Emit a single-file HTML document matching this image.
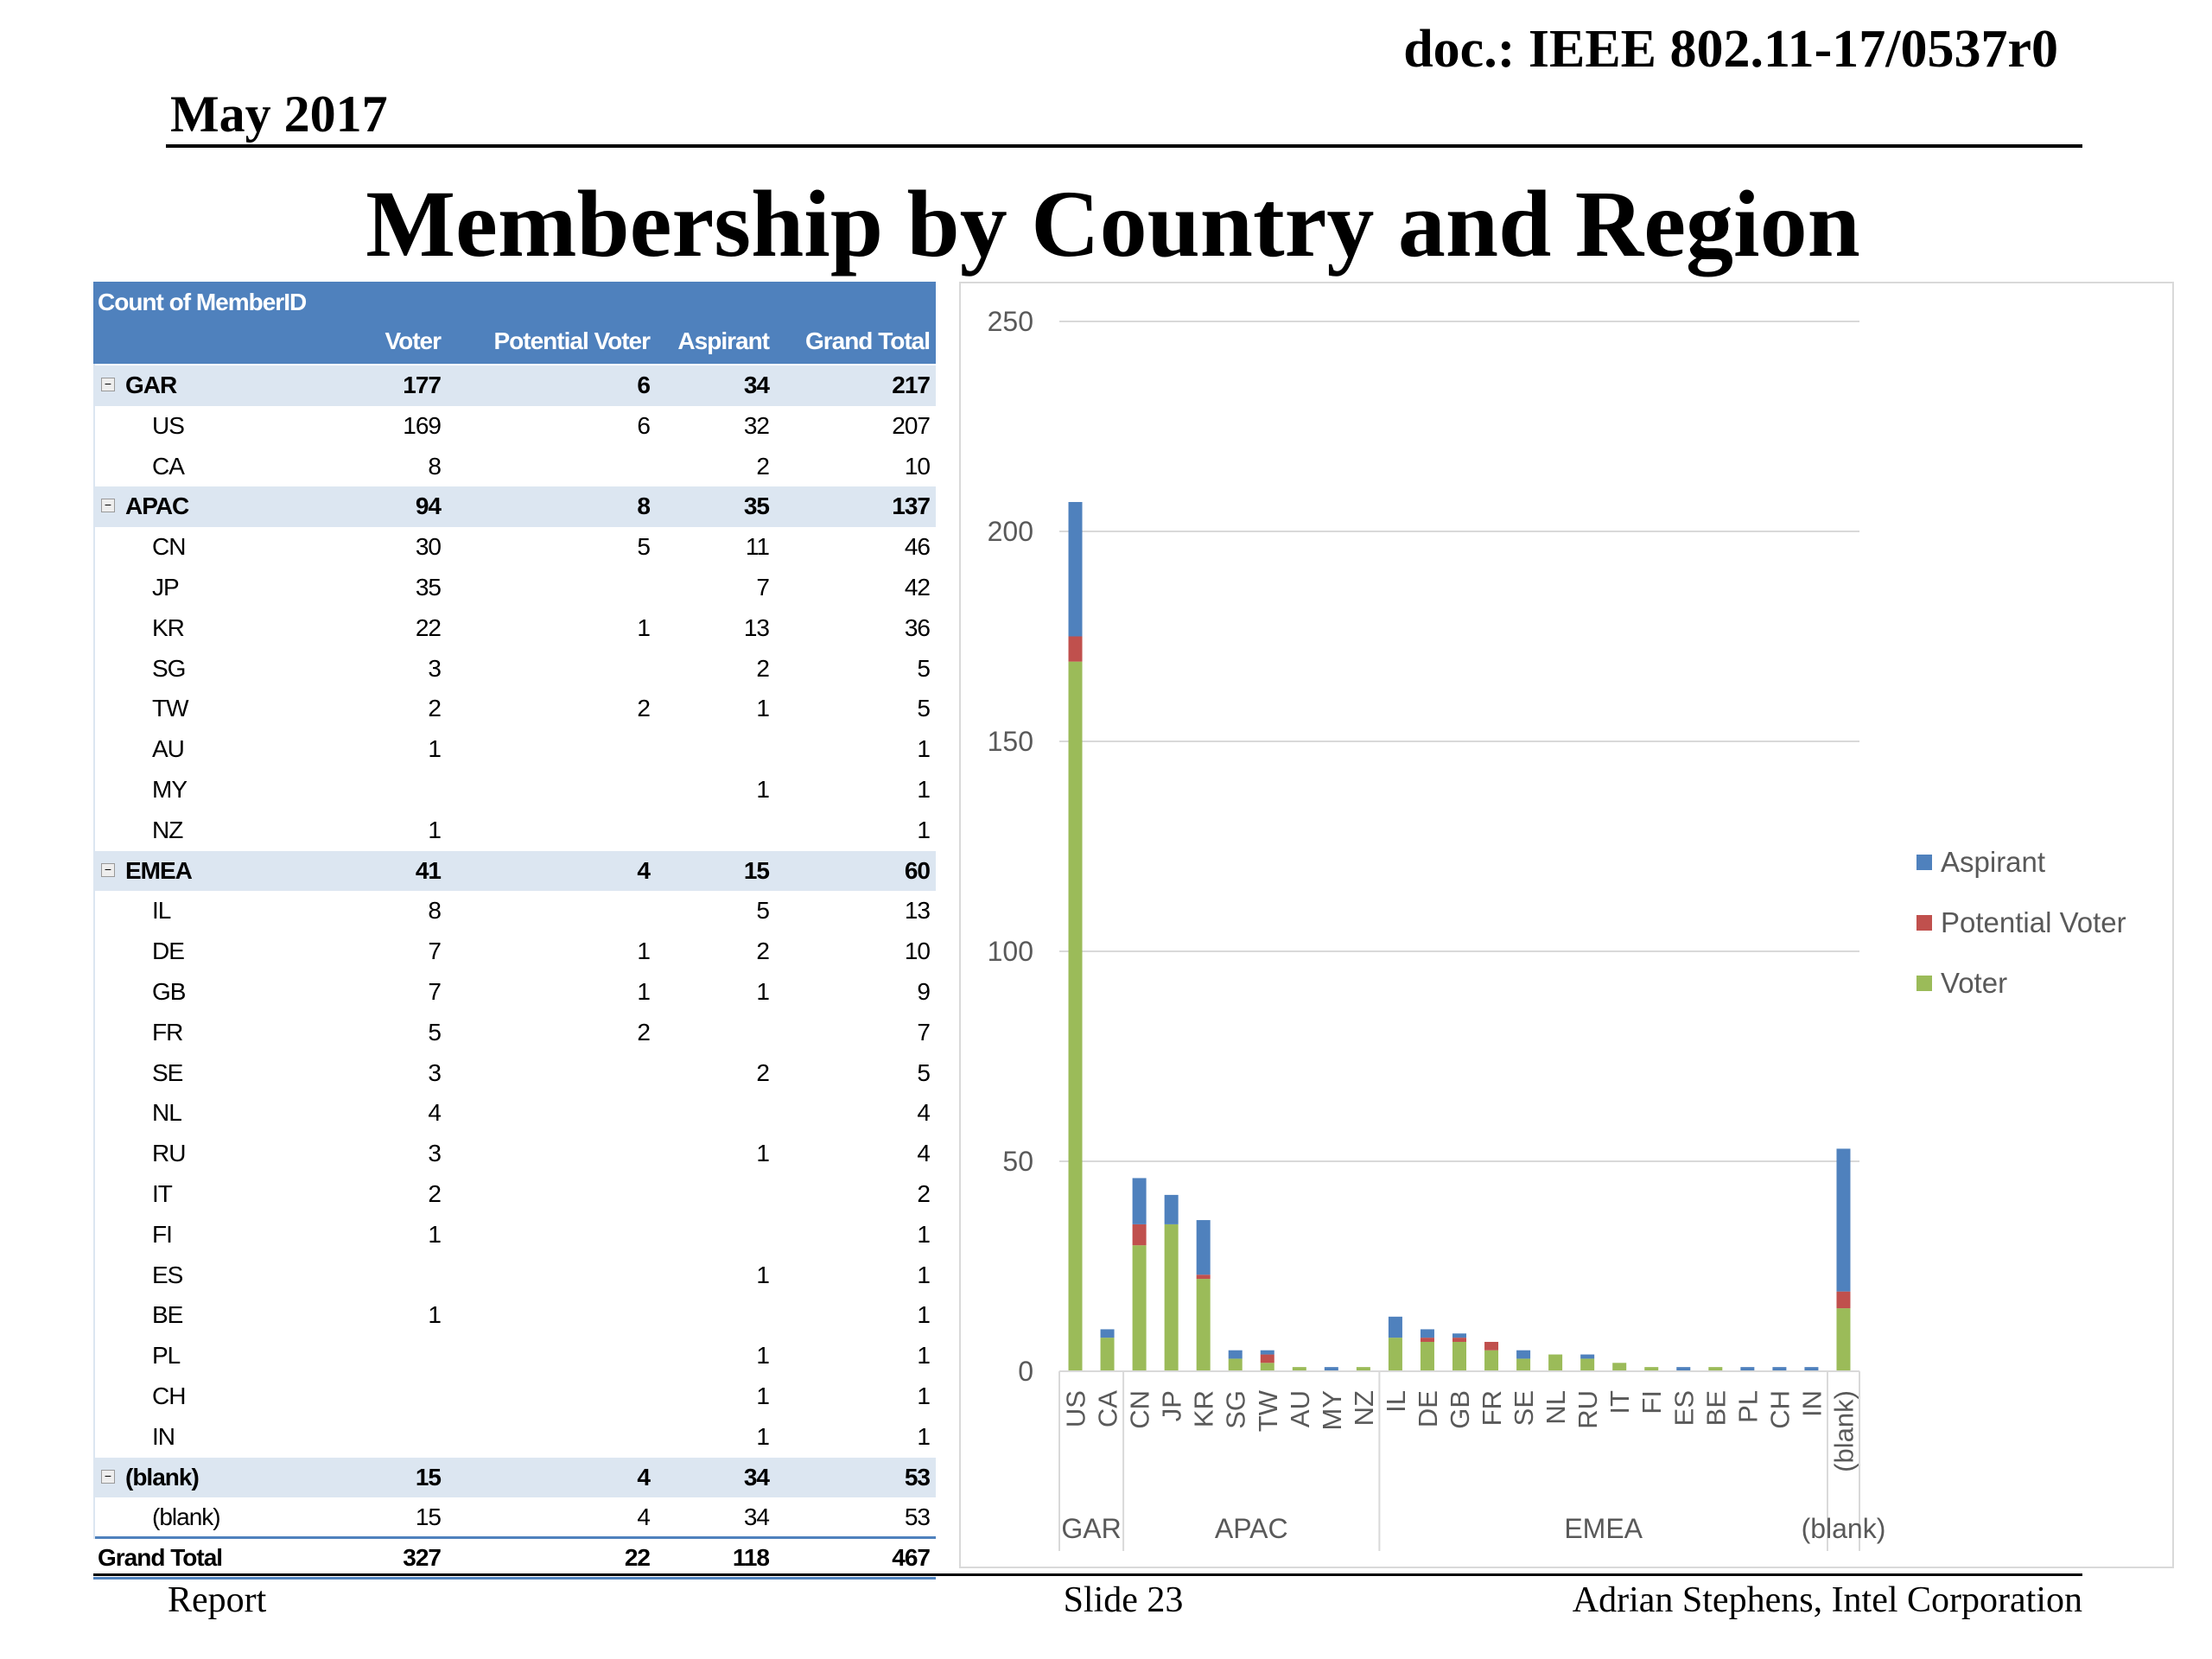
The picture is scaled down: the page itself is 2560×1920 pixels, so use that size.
<!DOCTYPE html>
<html><head><meta charset="utf-8">
<style>
body{margin:0;width:2560px;height:1920px;background:#fff;position:relative;overflow:hidden;font-family:"Liberation Serif",serif}
.abs{position:absolute}
.t{font-family:"Liberation Sans",sans-serif;font-size:28px;position:absolute;white-space:nowrap;letter-spacing:-1px}
</style></head><body>
<div class="abs" style="right:178px;top:22px;font-size:62px;font-weight:bold">doc.: IEEE 802.11-17/0537r0</div>
<div class="abs" style="left:197px;top:98px;font-size:60px;font-weight:bold">May 2017</div>
<div class="abs" style="left:192px;top:167px;width:2218px;height:4px;background:#000"></div>
<div class="abs" style="left:0;width:2576px;text-align:center;top:196px;font-size:110px;font-weight:bold">Membership by Country and Region</div>

<div id="tbl" class="abs" style="left:108px;top:326px;width:975px;height:1500px">
 <div class="abs" style="left:0;top:0;width:975px;height:95px;background:#4F81BD"></div>
 <div class="t" style="left:5px;top:8px;color:#fff;font-weight:bold">Count of MemberID</div>
</div>

<div class="abs" style="left:1110px;top:326px;width:1402px;height:1485px;border:2px solid #d9d9d9"></div>
<svg id="chart" class="abs" style="left:0;top:0" width="2560" height="1920"></svg>

<div class="abs" style="left:108px;top:1821px;width:2302px;height:3px;background:#000"></div>
<div class="abs" style="left:194px;top:1828px;font-size:42px">Report</div>
<div class="abs" style="left:1200px;width:200px;text-align:center;top:1828px;font-size:42px">Slide 23</div>
<div class="abs" style="right:150px;top:1828px;font-size:42px">Adrian Stephens, Intel Corporation</div>

<script>
const categories=["US","CA","CN","JP","KR","SG","TW","AU","MY","NZ","IL","DE","GB","FR","SE","NL","RU","IT","FI","ES","BE","PL","CH","IN","(blank)"];
const voter=[169,8,30,35,22,3,2,1,0,1,8,7,7,5,3,4,3,2,1,0,1,0,0,0,15];
const potential=[6,0,5,0,1,0,2,0,0,0,0,1,1,2,0,0,0,0,0,0,0,0,0,0,4];
const aspirant=[32,2,11,7,13,2,1,0,1,0,5,2,1,0,2,0,1,0,0,1,0,1,1,1,34];
const groups=["GAR","APAC","EMEA","(blank)"];
const groupStart=[0,2,10,24];
const groupEnd=[1,9,23,24];
const yTicks=[0,50,100,150,200,250];
const seriesNames=["Aspirant","Potential Voter","Voter"];
const seriesColors=["#4F81BD","#C0504D","#9BBB59"];

const NS="http://www.w3.org/2000/svg";
const svg=document.getElementById('chart');
function mk(tag,attrs,parent){const e=document.createElementNS(NS,tag);for(const k in attrs)e.setAttribute(k,attrs[k]);(parent||svg).appendChild(e);return e;}
const x0=1226,x1=2152,y0=1587,yTop=372,yMax=250;
const band=(x1-x0)/categories.length;
const xC=i=>x0+band*(i+0.5);
const yS=v=>y0-(v/yMax)*(y0-yTop);
const bw=16;

yTicks.forEach(t=>{
  const l=mk('line',{x1:x0,x2:x1,y1:yS(t),y2:yS(t),stroke:'#d9d9d9','stroke-width':2});
  
  
  const tx=mk('text',{x:1196,y:yS(t)+11,'text-anchor':'end','font-family':'Liberation Sans, sans-serif','font-size':32,fill:'#595959'});
  tx.textContent=t;
  
  
});

categories.forEach((c,i)=>{
  const vals=[voter[i],potential[i],aspirant[i]];
  const cols=["#9BBB59","#C0504D","#4F81BD"];
  const nm=["voter","potential","aspirant"];
  let acc=0;
  vals.forEach((v,k)=>{
    if(v<=0)return;
    const r=mk('rect',{x:xC(i)-bw/2,y:yS(acc+v),width:bw,height:yS(acc)-yS(acc+v),fill:cols[k]});
    
    
    acc+=v;
  });
  const tx=mk('text',{transform:`translate(${xC(i)+11},1609) rotate(-90)`,'text-anchor':'end','font-family':'Liberation Sans, sans-serif','font-size':31,fill:'#595959'});
  tx.textContent=c;
  
  
});
// group separators and labels
const sepX=[x0];
groups.forEach((g,gi)=>{sepX.push(x0+band*(groupEnd[gi]+1));});
sepX.forEach((sx,k)=>{
  const l=mk('line',{x1:sx,x2:sx,y1:y0,y2:1795,stroke:'#d9d9d9','stroke-width':2});
  
  
});
mk('line',{x1:x0,x2:x1,y1:y0,y2:y0,stroke:'#d9d9d9','stroke-width':2});
groups.forEach((g,gi)=>{
  const cx=(x0+band*groupStart[gi]+x0+band*(groupEnd[gi]+1))/2;
  const tx=mk('text',{x:cx,y:1780,'text-anchor':'middle','font-family':'Liberation Sans, sans-serif','font-size':32,fill:'#595959'});
  tx.textContent=g;
  
  
});
seriesNames.forEach((s,k)=>{
  const y=998+k*70;
  const r=mk('rect',{x:2218,y:y-9,width:18,height:18,fill:seriesColors[k]});
  
  
  const tx=mk('text',{x:2246,y:y+11,'font-family':'Liberation Sans, sans-serif','font-size':33,fill:'#595959'});
  tx.textContent=s;
  
  
});

// table
const tbl=document.getElementById('tbl');
function tdiv(txt,style,name){const d=document.createElement('div');d.className='t';d.textContent=txt;d.style.cssText=style;
  
  
  tbl.appendChild(d);return d;}
const colR=[402,644,782,968];
const heads=["Voter","Potential Voter","Aspirant","Grand Total"];
heads.forEach((h,k)=>tdiv(h,`right:${975-colR[k]}px;top:53px;color:#fff;font-weight:bold`,'column-header'));
const rows=[];
groups.forEach((g,gi)=>{
  const idx=[];for(let i=groupStart[gi];i<=groupEnd[gi];i++)idx.push(i);
  const sv=idx.reduce((a,i)=>a+voter[i],0),sp=idx.reduce((a,i)=>a+potential[i],0),sa=idx.reduce((a,i)=>a+aspirant[i],0);
  rows.push({l:g,v:[sv,sp,sa,sv+sp+sa],g:true});
  idx.forEach(i=>rows.push({l:categories[i],v:[voter[i],potential[i],aspirant[i],voter[i]+potential[i]+aspirant[i]],g:false}));
});
const tv=voter.reduce((a,b)=>a+b,0),tp=potential.reduce((a,b)=>a+b,0),ta=aspirant.reduce((a,b)=>a+b,0);
rows.push({l:"Grand Total",v:[tv,tp,ta,tv+tp+ta],total:true});
const rh=46.8;
rows.forEach((r,ri)=>{
  const top=97+rh*ri;
  if(r.g){const b=document.createElement('div');b.className='abs';b.style.cssText=`left:0;top:${top}px;width:975px;height:${rh}px;background:#DCE6F1`;
    
    
    tbl.appendChild(b);
    const m=document.createElement('div');m.className='abs';m.style.cssText=`left:9px;top:${top+14}px;width:14px;height:14px;border:1px solid #999;background:#eee;font:14px sans-serif;line-height:12px;text-align:center`;m.textContent='−';
    
    
    tbl.appendChild(m);}
  if(r.total){const b=document.createElement('div');b.className='abs';b.style.cssText=`left:0;top:${top-2}px;width:975px;height:3px;background:#4F81BD`;
    
    
    tbl.appendChild(b);
    const b2=document.createElement('div');b2.className='abs';b2.style.cssText=`left:0;top:${top+rh-2}px;width:975px;height:3px;background:#4F81BD`;
    
    
    tbl.appendChild(b2);}
  const bold=(r.g||r.total)?'font-weight:bold;':'';
  const lx=r.total?5:(r.g?37:68);
  tdiv(r.l,`left:${lx}px;top:${top+7}px;${bold}`,'row-label');
  r.v.forEach((v,k)=>{if(v===0)return;tdiv(String(v),`right:${975-colR[k]}px;top:${top+7}px;${bold}`,'cell-value');});
});
const ln=document.createElement('div');ln.className='abs';ln.style.cssText='left:0;top:95px;width:2px;height:1360px;background:#DCE6F1';


tbl.appendChild(ln);
</script>
</body></html>
